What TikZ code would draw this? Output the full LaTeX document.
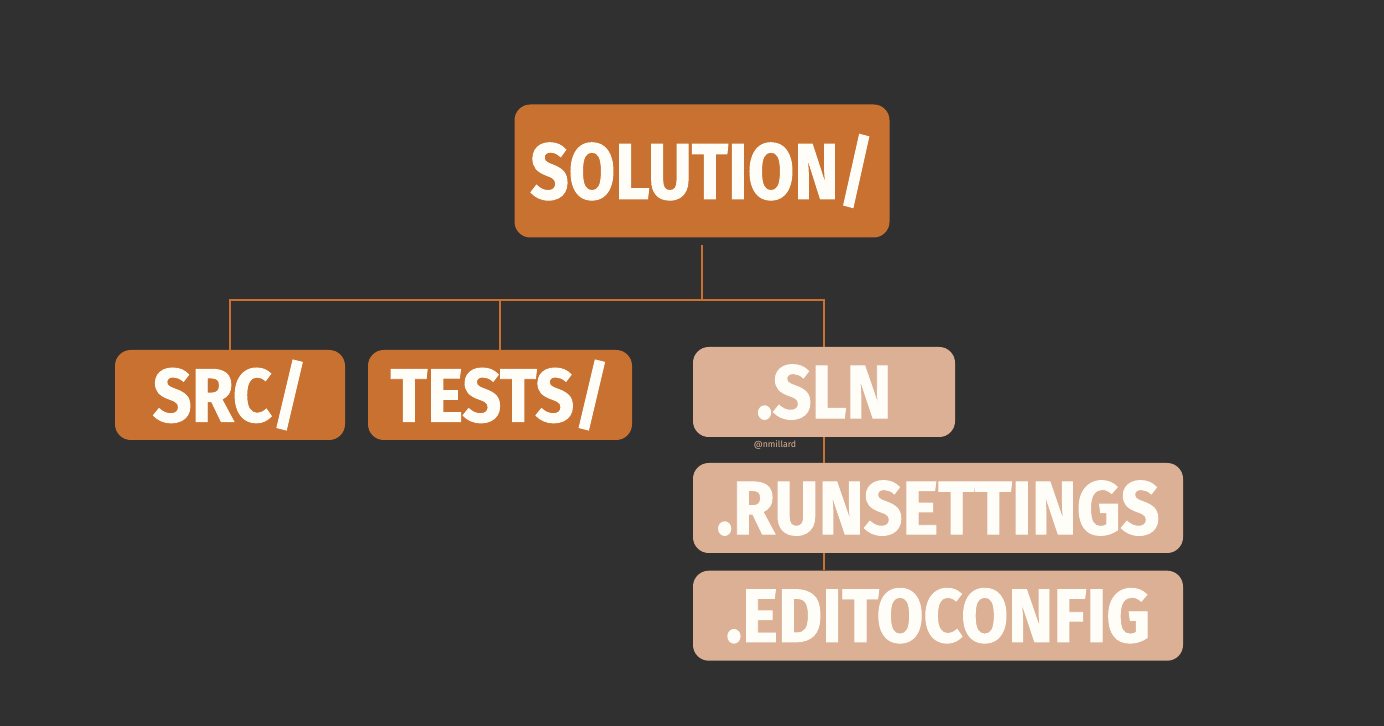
\documentclass[tikz,border=0pt]{standalone}
\usepackage{fontspec}
\setmainfont{Fira Sans}
\newfontfamily\tagfont{Fira Sans}[FakeStretch=0.9, BoldFeatures={FakeBold=1.2}]
\newfontfamily\headfont{Fira Sans}[FakeStretch=0.85, BoldFeatures={FakeBold=1.2}]
\usetikzlibrary{positioning}
\definecolor{bgdark}{RGB}{48,48,48}
\definecolor{dirorange}{RGB}{200,113,48}
\definecolor{filetan}{RGB}{219,176,148}
\definecolor{tagwhite}{RGB}{255,253,248}
\tikzset{
  tag/.style={rounded corners=9pt, text=tagwhite, inner sep=0pt,
    minimum height=1.8cm, font=\tagfont\bfseries\fontsize{43}{43}\selectfont},
  dirtag/.style={tag, fill=dirorange},
  filetag/.style={tag, fill=filetan},
  link/.style={draw=dirorange, line width=0.9pt}
}
\begin{document}
\begin{tikzpicture}
\fill [bgdark] (0,0) rectangle (27.68,14.52);
\useasboundingbox (0,0) rectangle (27.68,14.52);
% folders
\node [dirtag, minimum width=7.5cm, minimum height=2.66cm,
  font=\headfont\bfseries\fontsize{45}{45}\selectfont] (solution) at (14.04,11.10) {SOLUTION/};
\node [dirtag, minimum width=4.6cm] (src) at (4.6,6.62) {SRC/};
\node [dirtag, minimum width=5.28cm] (tests) at (10.0,6.62) {TESTS/};
% files
\node [filetag, minimum width=5.24cm] (sln) at (16.48,6.68) {.SLN};
\node [filetag, minimum width=9.8cm] (runsettings) at (18.76,4.36) {.RUNSETTINGS};
\node [filetag, minimum width=9.8cm, below=0.34cm of runsettings] (editorconfig) {.EDITOCONFIG};
\node [text=filetan, font=\fontsize{5}{5}\selectfont] (credit) at (15.5,5.62) {@nmillard};
% tree lines
\coordinate (bus) at (solution.south |- 0,8.52);
\draw [link, shorten <=0.14cm] (solution.south) -- (bus);
\draw [link] (src.north) |- (bus) -| (sln.north);
\draw [link] (tests.north) -- (tests.north |- bus);
\draw [link] (sln.south) -- (sln.south |- runsettings.north);
\draw [link] (sln.south |- runsettings.south) -- (sln.south |- editorconfig.north);
\end{tikzpicture}
\end{document}
